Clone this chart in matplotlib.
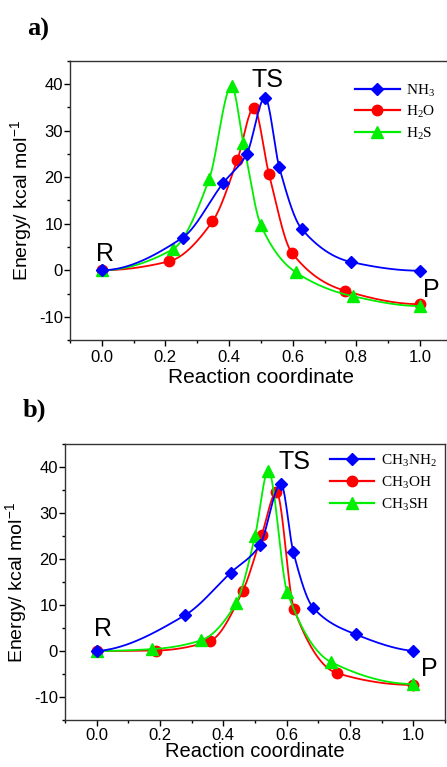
import numpy as np
import matplotlib
matplotlib.use("Agg")
import matplotlib.pyplot as plt
from matplotlib.ticker import MultipleLocator

# données lues sur la figure
# a)
x_nh3 = [0.0, 0.254, 0.382, 0.455, 0.513, 0.558, 0.628, 0.782, 1.0]
y_nh3 = [0.0, 7.0, 18.8, 24.9, 37.1, 22.1, 8.9, 1.8, -0.1]
x_h2o = [0.0, 0.211, 0.348, 0.426, 0.478, 0.525, 0.597, 0.764, 1.0]
y_h2o = [0.0, 1.9, 10.5, 23.7, 34.9, 20.8, 3.8, -4.4, -7.3]
x_h2s = [0.0, 0.223, 0.338, 0.408, 0.445, 0.500, 0.609, 0.790, 1.0]
y_h2s = [0.0, 4.5, 19.7, 39.6, 27.4, 9.7, -0.4, -5.6, -7.7]
# b)
x_ch3nh2 = [0.0, 0.279, 0.424, 0.515, 0.582, 0.621, 0.684, 0.819, 1.0]
y_ch3nh2 = [0.0, 7.8, 17.1, 23.0, 36.4, 21.6, 9.4, 3.6, 0.0]
x_ch3oh = [0.0, 0.187, 0.358, 0.461, 0.521, 0.568, 0.623, 0.758, 1.0]
y_ch3oh = [0.0, 0.1, 2.2, 13.0, 25.2, 34.6, 9.2, -4.8, -7.4]
x_ch3sh = [0.0, 0.174, 0.329, 0.440, 0.500, 0.542, 0.602, 0.740, 1.0]
y_ch3sh = [0.0, 0.4, 2.3, 10.4, 25.0, 39.3, 12.8, -2.4, -7.2]

labels_a = ["NH$_\\mathregular{3}$", "H$_\\mathregular{2}$O", "H$_\\mathregular{2}$S"]
labels_b = ["CH$_\\mathregular{3}$NH$_\\mathregular{2}$", "CH$_\\mathregular{3}$OH",
            "CH$_\\mathregular{3}$SH"]

couleurs = ["#0000ff", "#ff0000", "#00ee00"]
marqueurs = [("D", 6.5), ("o", 7.5), ("^", 8)]
ordre = [3, 1, 2]


# courbe lisse monotone (type pchip) entre les points
def lisser(x, y, n=400):
    x = np.asarray(x, float)
    y = np.asarray(y, float)
    h = np.diff(x)
    d = np.diff(y) / h
    m = np.zeros(len(x))
    for k in range(1, len(x) - 1):
        if d[k - 1] * d[k] > 0:
            w1 = 2 * h[k] + h[k - 1]
            w2 = h[k] + 2 * h[k - 1]
            m[k] = (w1 + w2) / (w1 / d[k - 1] + w2 / d[k])
    def bord(h0, h1, d0, d1):
        v = ((2 * h0 + h1) * d0 - h0 * d1) / (h0 + h1)
        if np.sign(v) != np.sign(d0):
            return 0.0
        if np.sign(d0) != np.sign(d1) and abs(v) > abs(3 * d0):
            return 3 * d0
        return v
    m[0] = bord(h[0], h[1], d[0], d[1])
    m[-1] = bord(h[-1], h[-2], d[-1], d[-2])
    xs = np.linspace(x[0], x[-1], n)
    idx = np.clip(np.searchsorted(x, xs) - 1, 0, len(x) - 2)
    t = (xs - x[idx]) / h[idx]
    h00 = 2 * t**3 - 3 * t**2 + 1
    h10 = t**3 - 2 * t**2 + t
    h01 = -2 * t**3 + 3 * t**2
    h11 = t**3 - t**2
    ys = h00 * y[idx] + h10 * h[idx] * m[idx] + h01 * y[idx + 1] + h11 * h[idx] * m[idx + 1]
    return xs, ys


def tracer(ax, series, labels, ts_pos, r_pos, p_pos, leg_anchor, xpad, xtpad, xfs):
    handles = []
    for (x, y), lab, c, (mk, ms), z in zip(series, labels, couleurs, marqueurs, ordre):
        xs, ys = lisser(x, y)
        ax.plot(xs, ys, color=c, lw=1.3, zorder=z)
        ax.plot(x, y, ls="none", marker=mk, ms=ms, color=c, zorder=z + 0.5)
        h, = ax.plot([], [], color=c, lw=1.6, marker=mk, ms=ms)
        handles.append(h)

    ax.set_xlim(-0.1, 1.1)
    ax.set_ylim(-15, 45)
    ax.xaxis.set_major_locator(MultipleLocator(0.2))
    ax.xaxis.set_minor_locator(MultipleLocator(0.1))
    ax.yaxis.set_major_locator(MultipleLocator(10))
    ax.yaxis.set_minor_locator(MultipleLocator(5))
    ax.set_xticks([0, 0.2, 0.4, 0.6, 0.8, 1.0])
    ax.set_xticklabels(["0.0", "0.2", "0.4", "0.6", "0.8", "1.0"])
    ax.tick_params(which="major", direction="out", length=4, width=1, labelsize=12)
    ax.tick_params(axis="y", which="major", pad=1)
    ax.tick_params(axis="x", which="major", pad=xtpad)
    ax.tick_params(which="minor", direction="out", length=2.5, width=1)
    for s in ax.spines.values():
        s.set_color("#333333")
        s.set_linewidth(1)

    ax.set_xlabel("Reaction coordinate", fontsize=xfs, labelpad=xpad)
    ax.set_ylabel("Energy/ kcal mol$^\\mathregular{-1}$", fontsize=14, labelpad=3)

    ax.text(*ts_pos, "TS", fontsize=18, ha="center", va="center")
    ax.text(*r_pos, "R", fontsize=18, ha="center", va="center")
    ax.text(*p_pos, "P", fontsize=18, ha="center", va="center")

    ax.legend(handles, labels, loc="upper left", bbox_to_anchor=leg_anchor,
              frameon=False, prop={"family": "Liberation Serif", "size": 11},
              handlelength=2.9, handletextpad=0.45, labelspacing=0.32,
              borderpad=0, borderaxespad=0)


plt.rcParams["font.family"] = ["Liberation Sans", "DejaVu Sans"]
plt.rcParams["axes.unicode_minus"] = False

fig = plt.figure(figsize=(4.47, 7.67), dpi=100)
ax1 = fig.add_axes([0.1564, 0.5567, 0.8544, 0.3638])
ax2 = fig.add_axes([0.1454, 0.0615, 0.8500, 0.3590])

tracer(ax1, [(x_nh3, y_nh3), (x_h2o, y_h2o), (x_h2s, y_h2s)], labels_a,
       (0.522, 40.9), (0.01, 3.6), (1.037, -4.3), (0.747, 0.925), 1.5, 3.5, 15)
tracer(ax2, [(x_ch3nh2, y_ch3nh2), (x_ch3oh, y_ch3oh), (x_ch3sh, y_ch3sh)], labels_b,
       (0.626, 41.1), (0.021, 4.7), (1.052, -4.0), (0.697, 0.97), -0.5, 2, 14.5)

fig.text(27 / 447, 1 - 29 / 767, "a)", fontsize=19, fontweight="bold",
         family="Liberation Serif", ha="left", va="center")
fig.text(23 / 447, 1 - 410 / 767, "b)", fontsize=19, fontweight="bold",
         family="Liberation Serif", ha="left", va="center")

fig.savefig("out.png", dpi=100)
